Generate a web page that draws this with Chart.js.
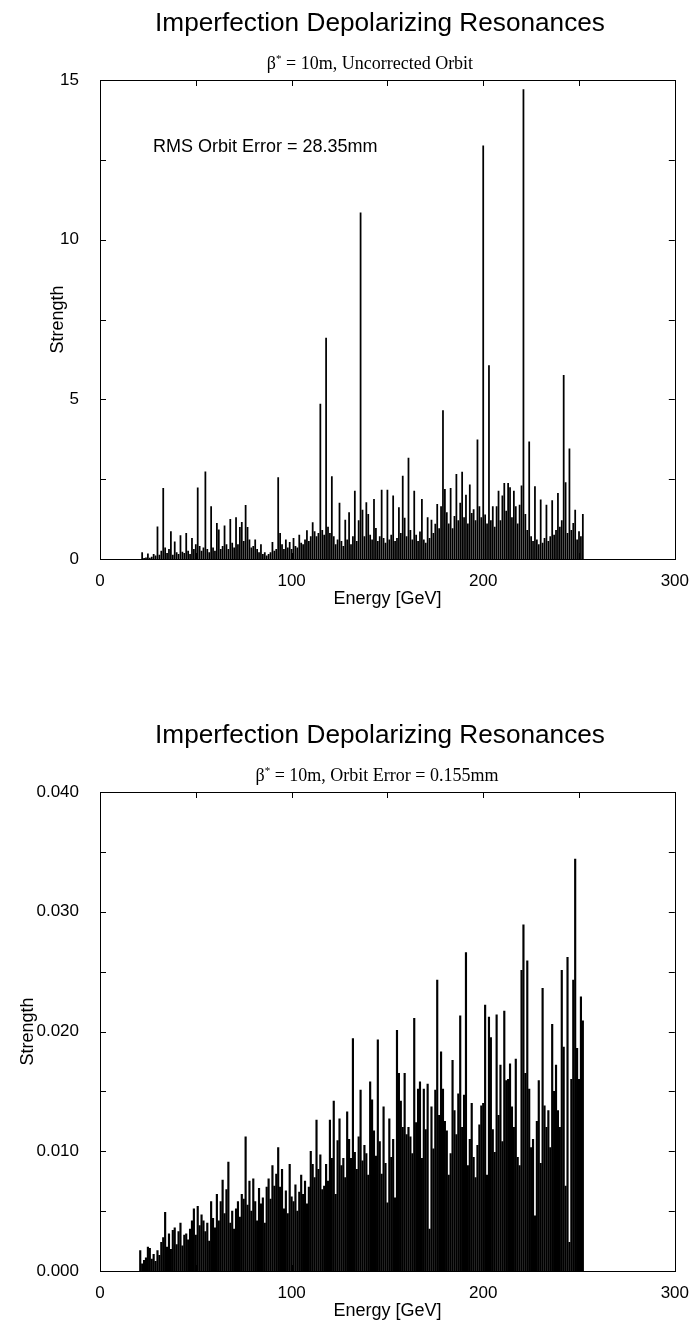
<!DOCTYPE html>
<html>
<head>
<meta charset="utf-8">
<title>Imperfection Depolarizing Resonances</title>
<script src="https://cdn.jsdelivr.net/npm/chart.js"></script>
<style>
  body { margin: 0; width: 693px; height: 1321px; overflow: hidden; background: #fff; position: relative; }
  .panel { position: absolute; left: 0; width: 693px; height: 640px; }
  .panel canvas { position: absolute; left: 0; top: 0; }
  .titulo { position: absolute; left: 0; top: 7px; width: 760px; text-align: center; font-family: "Liberation Sans", Arial, sans-serif; font-size: 26.2px; line-height: 30px; color: #000; z-index: 2; }
  .subtitulo { position: absolute; left: 0; top: 52px; text-align: center; font-family: "Liberation Serif", "Times New Roman", serif; font-size: 18px; line-height: 22px; color: #000; z-index: 2; }
  .subtitulo sup { font-size: 11px; vertical-align: 0; position: relative; top: -7px; }
</style>
</head>
<body>
<div class="panel" style="top:0">
  <div class="titulo">Imperfection Depolarizing Resonances</div>
  <div class="subtitulo" style="width:740px">β<sup>*</sup> = 10m, Uncorrected Orbit</div>
  <canvas id="graficoArriba" width="693" height="640"></canvas>
</div>
<div class="panel" style="top:712px">
  <div class="titulo">Imperfection Depolarizing Resonances</div>
  <div class="subtitulo" style="width:754px">β<sup>*</sup> = 10m, Orbit Error = 0.155mm</div>
  <canvas id="graficoAbajo" width="693" height="640"></canvas>
</div>
<script>
// tick labels
const energyTicks = [0, 100, 200, 300];
const topStrengthTicks = [0, 5, 10, 15];
const bottomStrengthTicks = [0, 0.01, 0.02, 0.03, 0.04];

// uncorrected orbit: one bar per GeV, first bar at 22 GeV
const topFirstEnergy = 22;
const topStrength = [
  0.20, 0.02, 0.04, 0.16, 0.03, 0.06, 0.15, 0.10, 1.01, 0.12,
  0.25, 2.21, 0.35, 0.18, 0.30, 0.86, 0.12, 0.54, 0.20, 0.15,
  0.73, 0.22, 0.18, 0.80, 0.25, 0.15, 0.65, 0.30, 0.45, 2.23,
  0.40, 0.25, 0.35, 2.73, 0.30, 0.20, 1.64, 0.35, 0.25, 1.12,
  0.91, 0.30, 0.40, 1.04, 0.45, 0.30, 1.24, 0.50, 0.35, 1.30,
  0.45, 0.99, 1.15, 0.55, 1.68, 0.99, 0.60, 0.35, 0.40, 0.60,
  0.30, 0.20, 0.45, 0.15, 0.20, 0.10, 0.15, 0.20, 0.52, 0.25,
  0.30, 2.55, 0.80, 0.45, 0.30, 0.60, 0.35, 0.52, 0.30, 0.65,
  0.40, 0.35, 0.75, 0.50, 0.45, 0.60, 0.89, 0.55, 0.70, 1.14,
  0.86, 0.70, 0.80, 4.85, 0.90, 0.75, 6.92, 1.00, 0.80, 2.58,
  0.70, 0.45, 0.60, 1.75, 0.55, 0.40, 1.22, 0.60, 1.45, 0.45,
  0.70, 2.13, 0.55, 1.20, 10.84, 1.53, 0.70, 1.77, 1.40, 0.75,
  0.60, 1.87, 0.96, 0.55, 0.70, 2.16, 0.65, 0.50, 2.16, 0.60,
  0.75, 1.98, 0.55, 0.65, 1.61, 0.80, 2.60, 1.28, 0.70, 3.16,
  0.90, 0.60, 2.13, 0.75, 0.55, 0.85, 1.87, 0.60, 0.50, 1.30,
  0.65, 1.22, 0.80, 1.09, 1.71, 0.95, 1.64, 4.65, 2.18, 1.45,
  1.10, 2.21, 0.95, 1.34, 2.65, 1.20, 1.75, 2.72, 1.30, 2.00,
  1.10, 2.32, 1.43, 1.55, 1.20, 3.73, 1.64, 1.30, 12.94, 1.38,
  1.10, 6.06, 1.20, 1.64, 1.00, 1.64, 2.13, 1.20, 1.98, 2.37,
  1.50, 2.37, 2.24, 1.30, 2.13, 1.64, 1.10, 1.69, 2.29, 14.70,
  1.40, 0.90, 3.67, 0.70, 0.55, 2.27, 0.60, 0.45, 1.85, 0.50,
  0.65, 1.69, 0.55, 0.70, 1.83, 0.75, 0.90, 2.06, 1.00, 1.20,
  5.75, 2.39, 0.80, 3.45, 0.90, 1.12, 1.53, 0.60, 0.86, 0.70,
  1.40
];

// orbit error 0.155mm: one bar per GeV, first bar at 21 GeV
const bottomFirstEnergy = 21;
const bottomStrength = [
  0.0017, 0.0006, 0.0009, 0.0011, 0.0020, 0.0019, 0.0010, 0.0014, 0.0008, 0.0017,
  0.0013, 0.0024, 0.0028, 0.0049, 0.0020, 0.0031, 0.0018, 0.0034, 0.0036, 0.0022,
  0.0033, 0.0040, 0.0021, 0.0030, 0.0031, 0.0026, 0.0035, 0.0042, 0.0052, 0.0030,
  0.0054, 0.0038, 0.0047, 0.0042, 0.0033, 0.0040, 0.0025, 0.0058, 0.0044, 0.0036,
  0.0064, 0.0042, 0.0058, 0.0076, 0.0048, 0.0068, 0.0091, 0.0040, 0.0050, 0.0035,
  0.0052, 0.0058, 0.0045, 0.0064, 0.0060, 0.0112, 0.0055, 0.0075, 0.0050, 0.0077,
  0.0058, 0.0042, 0.0069, 0.0056, 0.0061, 0.0040, 0.0070, 0.0077, 0.0060, 0.0088,
  0.0071, 0.0081, 0.0103, 0.0070, 0.0085, 0.0052, 0.0067, 0.0048, 0.0089, 0.0062,
  0.0058, 0.0072, 0.0050, 0.0066, 0.0080, 0.0064, 0.0075, 0.0056, 0.0070, 0.0100,
  0.0089, 0.0078, 0.0126, 0.0085, 0.0097, 0.0068, 0.0071, 0.0089, 0.0075, 0.0126,
  0.0094, 0.0142, 0.0064, 0.0109, 0.0127, 0.0088, 0.0094, 0.0078, 0.0133, 0.0110,
  0.0094, 0.0194, 0.0099, 0.0085, 0.0112, 0.0151, 0.0092, 0.0105, 0.0098, 0.0080,
  0.0158, 0.0143, 0.0117, 0.0096, 0.0193, 0.0108, 0.0081, 0.0137, 0.0090, 0.0057,
  0.0127, 0.0095, 0.0110, 0.0061, 0.0201, 0.0165, 0.0142, 0.0120, 0.0165, 0.0114,
  0.0120, 0.0112, 0.0098, 0.0211, 0.0124, 0.0152, 0.0158, 0.0094, 0.0152, 0.0118,
  0.0156, 0.0035, 0.0137, 0.0102, 0.0151, 0.0243, 0.0130, 0.0183, 0.0152, 0.0125,
  0.0117, 0.0080, 0.0098, 0.0176, 0.0134, 0.0114, 0.0148, 0.0213, 0.0120, 0.0147,
  0.0266, 0.0088, 0.0110, 0.0140, 0.0095, 0.0078, 0.0105, 0.0122, 0.0138, 0.0140,
  0.0222, 0.0080, 0.0212, 0.0195, 0.0118, 0.0099, 0.0214, 0.0130, 0.0172, 0.0108,
  0.0217, 0.0159, 0.0160, 0.0173, 0.0137, 0.0120, 0.0177, 0.0095, 0.0088, 0.0251,
  0.0289, 0.0165, 0.0259, 0.0152, 0.0103, 0.0110, 0.0046, 0.0125, 0.0159, 0.0090,
  0.0236, 0.0138, 0.0120, 0.0134, 0.0103, 0.0206, 0.0150, 0.0172, 0.0134, 0.0120,
  0.0251, 0.0187, 0.0071, 0.0262, 0.0024, 0.0160, 0.0243, 0.0344, 0.0186, 0.0160,
  0.0229, 0.0209
];

const fuente = '"Liberation Sans", Arial, sans-serif';
Chart.defaults.font.family = fuente;
Chart.defaults.color = '#000';

// box round the plot, inward ticks on all four sides, and the text note
const marco = {
  id: 'marco',
  beforeDatasetsDraw(chart) {
    const { ctx, chartArea: a, scales: { x, y } } = chart;
    ctx.save();
    ctx.strokeStyle = '#000';
    ctx.lineWidth = 1;
    ctx.beginPath();
    x.ticks.forEach(t => {
      const px = Math.round(x.getPixelForValue(t.value)) + 0.5;
      ctx.moveTo(px, a.top); ctx.lineTo(px, a.top + 6);
      ctx.moveTo(px, a.bottom); ctx.lineTo(px, a.bottom - 6);
    });
    y.ticks.forEach(t => {
      const py = Math.round(y.getPixelForValue(t.value)) + 0.5;
      ctx.moveTo(a.left, py); ctx.lineTo(a.left + 6, py);
      ctx.moveTo(a.right, py); ctx.lineTo(a.right - 6, py);
    });
    ctx.stroke();
    ctx.restore();
  },
  afterDatasetsDraw(chart, args, opts) {
    const { ctx, chartArea: a, scales: { x, y } } = chart;
    ctx.save();
    ctx.strokeStyle = '#000';
    ctx.lineWidth = 1;
    ctx.strokeRect(Math.round(a.left) + 0.5, Math.round(a.top) + 0.5,
      Math.round(a.right - a.left), Math.round(a.bottom - a.top));
    if (opts.note) {
      ctx.fillStyle = '#000';
      ctx.font = `18px ${fuente}`;
      ctx.textBaseline = 'middle';
      ctx.fillText(opts.note.text, x.getPixelForValue(opts.note.x), y.getPixelForValue(opts.note.y));
    }
    ctx.restore();
  }
};

function renderChart(id, firstEnergy, values, yMax, yStep, yTicks, formatY, barWidth, yTitlePad, note) {
  return new Chart(document.getElementById(id), {
    type: 'bar',
    data: {
      datasets: [{
        data: values.map((v, i) => ({ x: firstEnergy + i, y: v })),
        backgroundColor: '#000',
        borderWidth: 0,
        barThickness: barWidth
      }]
    },
    options: {
      responsive: false,
      animation: false,
      layout: { padding: { top: 80, right: 17, left: 0, bottom: 0 } },
      plugins: {
        legend: { display: false },
        tooltip: { enabled: false },
        marco: { note: note }
      },
      scales: {
        x: {
          type: 'linear',
          min: 0,
          max: 300,
          offset: false,
          grid: { display: false },
          border: { display: false },
          ticks: {
            stepSize: 50,
            autoSkip: false,
            maxRotation: 0,
            padding: 4,
            font: { size: 17 },
            callback: v => energyTicks.includes(v) ? v : ''
          },
          title: { display: true, text: 'Energy [GeV]', font: { size: 18 }, padding: { top: 0, bottom: 30 } },
          afterFit: s => { s.height = 81; }
        },
        y: {
          min: 0,
          max: yMax,
          grid: { display: false },
          border: { display: false },
          ticks: {
            stepSize: yStep,
            autoSkip: false,
            padding: 13,
            font: { size: 17 },
            callback: v => yTicks.some(t => Math.abs(t - v) < 1e-9) ? formatY(v) : ''
          },
          title: { display: true, text: 'Strength', font: { size: 18 }, padding: { top: yTitlePad, bottom: 0 } },
          afterFit: s => { s.width = 100; }
        }
      }
    },
    plugins: [marco]
  });
}

renderChart('graficoArriba', topFirstEnergy, topStrength, 15, 2.5, topStrengthTicks,
  v => String(v), 1.1, 47, { text: 'RMS Orbit Error = 28.35mm', x: 27.6, y: 12.9 });

renderChart('graficoAbajo', bottomFirstEnergy, bottomStrength, 0.04, 0.005, bottomStrengthTicks,
  v => v.toFixed(3), 1.5, 17, null);
</script>
</body>
</html>
